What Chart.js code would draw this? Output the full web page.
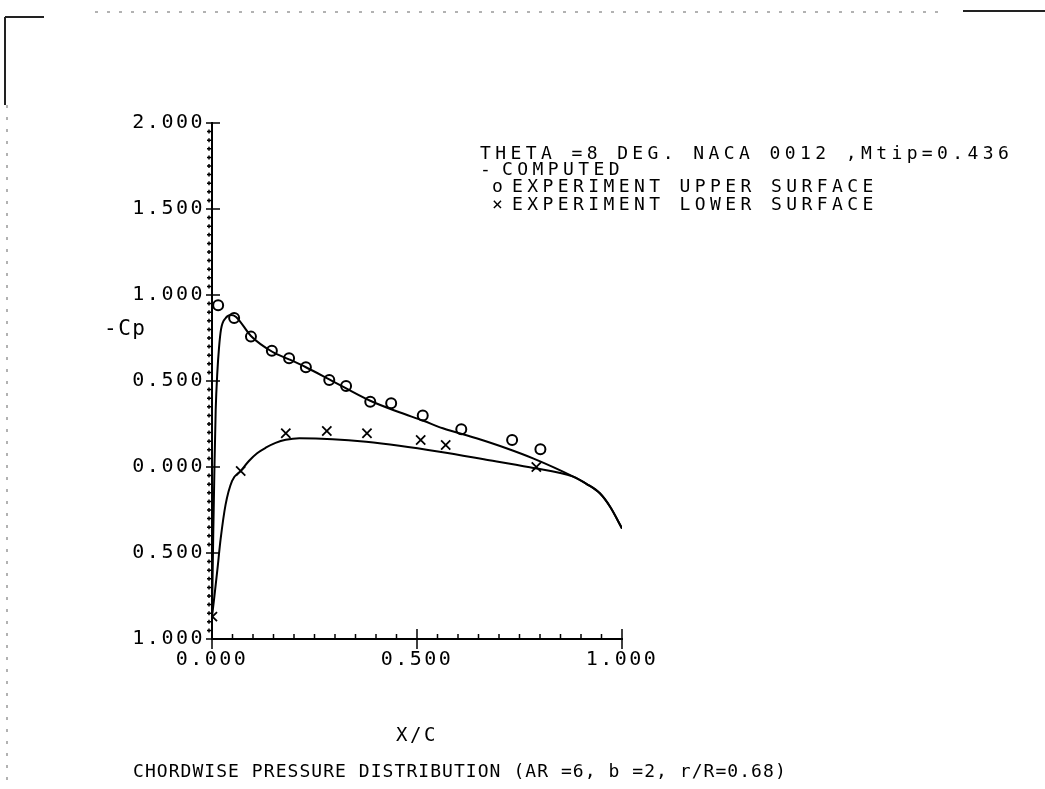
<!DOCTYPE html>
<html>
<head>
<meta charset="utf-8">
<title>Chordwise pressure distribution</title>
<script src="https://cdn.jsdelivr.net/npm/chart.js@4.4.1/dist/chart.umd.min.js"></script>
<style>
  html, body { margin: 0; padding: 0; background: #fff; }
  #wrap { width: 1045px; height: 789px; }
</style>
</head>
<body>
<div id="wrap"><canvas id="cpChart" width="1045" height="789"></canvas></div>
<script>
// axis ticks
var xTicks = [0, 0.5, 1];
var xTickLabels = ['0.000', '0.500', '1.000'];
var yTicks = [-1, -0.5, 0, 0.5, 1, 1.5, 2];
var yTickLabels = ['1.000', '0.500', '0.000', '0.500', '1.000', '1.500', '2.000'];

// experiment, upper surface (o)
var upperX  = [0.015, 0.054, 0.095, 0.146, 0.188, 0.229, 0.286, 0.327, 0.386, 0.437, 0.514, 0.608, 0.732, 0.801];
var upperCp = [0.94, 0.866, 0.758, 0.676, 0.632, 0.58, 0.506, 0.471, 0.38, 0.37, 0.30, 0.219, 0.157, 0.103];

// experiment, lower surface (x)
var lowerX  = [0.001, 0.07, 0.18, 0.28, 0.378, 0.509, 0.57, 0.791];
var lowerCp = [-0.87, -0.023, 0.196, 0.209, 0.196, 0.157, 0.128, 0.0];

// computed, upper surface
var compUpX  = [0, 0.003, 0.006, 0.009, 0.013, 0.017, 0.022, 0.033, 0.046, 0.058, 0.095, 0.147, 0.188, 0.229, 0.286, 0.386, 0.457, 0.514, 0.563, 0.645, 0.718, 0.783, 0.881, 0.914, 0.946, 0.971, 1.0];
var compUpCp = [-0.87, -0.4, 0.0, 0.33, 0.55, 0.69, 0.8, 0.865, 0.884, 0.874, 0.762, 0.67, 0.626, 0.58, 0.51, 0.385, 0.318, 0.27, 0.225, 0.167, 0.109, 0.05, -0.056, -0.099, -0.153, -0.231, -0.357];

// computed, lower surface
var compLoX  = [0, 0.005, 0.013, 0.021, 0.033, 0.049, 0.07, 0.09, 0.11, 0.131, 0.155, 0.18, 0.213, 0.294, 0.376, 0.457, 0.555, 0.663, 0.775, 0.881, 0.914, 0.946, 0.971, 1.0];
var compLoCp = [-0.87, -0.77, -0.6, -0.42, -0.22, -0.08, -0.023, 0.035, 0.08, 0.112, 0.14, 0.158, 0.167, 0.162, 0.147, 0.124, 0.089, 0.045, -0.002, -0.056, -0.099, -0.153, -0.231, -0.357];

var FONT = '"DejaVu Sans Mono", "Liberation Mono", monospace';

function pts(xs, ys) {
    return xs.map(function (x, i) { return { x: x, y: ys[i] }; });
}

function spacedText(ctx, text, x, y, size, spacing, align) {
    ctx.save();
    ctx.font = size + 'px ' + FONT;
    ctx.letterSpacing = spacing + 'px';
    ctx.textAlign = align || 'left';
    ctx.textBaseline = 'alphabetic';
    ctx.fillStyle = '#000';
    ctx.fillText(text, x, y);
    ctx.restore();
}

var paperPlugin = {
    id: 'paper',
    beforeDraw: function (chart) {
        var ctx = chart.ctx;
        ctx.save();
        // scanned page frame
        ctx.strokeStyle = '#222';
        ctx.lineWidth = 2;
        ctx.beginPath();
        ctx.moveTo(5, 17); ctx.lineTo(44, 17);
        ctx.moveTo(5, 17); ctx.lineTo(5, 105);
        ctx.moveTo(963, 11); ctx.lineTo(1045, 11);
        ctx.stroke();
        ctx.strokeStyle = '#999';
        ctx.lineWidth = 1.5;
        ctx.setLineDash([3, 9]);
        ctx.beginPath();
        ctx.moveTo(95, 12); ctx.lineTo(945, 12);
        ctx.moveTo(7, 105); ctx.lineTo(7, 789);
        ctx.stroke();
        ctx.restore();
        ctx.letterSpacing = '2.5px';
    },
    afterDraw: function (chart) {
        var ctx = chart.ctx, xs = chart.scales.x, ys = chart.scales.y;
        ctx.letterSpacing = '0px';
        var x0 = xs.getPixelForValue(0);
        var yb = ys.getPixelForValue(-1);
        ctx.save();
        ctx.strokeStyle = '#000';
        ctx.lineWidth = 1.5;
        ctx.beginPath();
        // y axis minor / major ticks
        for (var k = 0; k <= 60; k++) {
            var v = -1 + k * 0.05;
            var py = ys.getPixelForValue(v);
            if (k % 10 === 0) {
                ctx.moveTo(x0 - 6, py); ctx.lineTo(x0 + 8, py);
            } else {
                ctx.moveTo(x0 - 5, py); ctx.lineTo(x0, py);
                ctx.moveTo(x0 - 3, py - 2); ctx.lineTo(x0 - 3, py + 2);
            }
        }
        // x axis minor / major ticks
        for (var j = 0; j <= 20; j++) {
            var px = xs.getPixelForValue(j * 0.05);
            if (j % 10 === 0) {
                ctx.moveTo(px, yb - 10); ctx.lineTo(px, yb + 10);
            } else {
                ctx.moveTo(px, yb - 5); ctx.lineTo(px, yb);
            }
        }
        ctx.stroke();
        ctx.restore();

        // axis name and captions
        spacedText(ctx, '-Cp', 104, 335, 21, 1.5);
        spacedText(ctx, 'CHORDWISE PRESSURE DISTRIBUTION (AR =6, b =2, r/R=0.68)', 133, 777, 18, 1.05);

        // legend block
        spacedText(ctx, 'THETA =8 DEG. NACA 0012 ,Mtip=0.436', 480, 159, 18, 4.4);
        spacedText(ctx, '-', 480, 175, 18, 4.4);
        spacedText(ctx, 'COMPUTED', 502, 175, 18, 4.4);
        spacedText(ctx, 'o', 492, 192, 18, 4.4);
        spacedText(ctx, 'EXPERIMENT UPPER SURFACE', 512, 192, 18, 4.4);
        spacedText(ctx, '\u00d7', 492, 210, 18, 4.4);
        spacedText(ctx, 'EXPERIMENT LOWER SURFACE', 512, 210, 18, 4.4);
    }
};

var ctx = document.getElementById('cpChart').getContext('2d');

new Chart(ctx, {
    type: 'scatter',
    data: {
        datasets: [{
            label: 'COMPUTED upper',
            data: pts(compUpX, compUpCp),
            showLine: true,
            borderColor: '#000',
            borderWidth: 2,
            pointRadius: 0,
            cubicInterpolationMode: 'monotone'
        }, {
            label: 'COMPUTED lower',
            data: pts(compLoX, compLoCp),
            showLine: true,
            borderColor: '#000',
            borderWidth: 2,
            pointRadius: 0,
            cubicInterpolationMode: 'monotone'
        }, {
            label: 'EXPERIMENT UPPER SURFACE',
            data: pts(upperX, upperCp),
            pointStyle: 'circle',
            pointRadius: 5,
            borderColor: '#000',
            borderWidth: 2,
            backgroundColor: 'rgba(0,0,0,0)'
        }, {
            label: 'EXPERIMENT LOWER SURFACE',
            data: pts(lowerX, lowerCp),
            pointStyle: 'crossRot',
            pointRadius: 6.5,
            borderColor: '#000',
            borderWidth: 1.8
        }]
    },
    options: {
        responsive: false,
        animation: false,
        events: [],
        layout: { padding: { left: 0, right: 423, top: 123, bottom: 0 } },
        plugins: {
            legend: { display: false },
            tooltip: { enabled: false },
            title: { display: false }
        },
        scales: {
            x: {
                type: 'linear',
                min: 0,
                max: 1,
                afterBuildTicks: function (scale) {
                    scale.ticks = xTicks.map(function (v) { return { value: v }; });
                },
                afterFit: function (scale) { scale.height = 150; },
                grid: { display: false, drawTicks: false },
                border: { display: true, color: '#000', width: 2 },
                ticks: {
                    autoSkip: false,
                    maxRotation: 0,
                    padding: 9,
                    color: '#000',
                    font: { family: FONT, size: 20 },
                    callback: function (v, i) { return xTickLabels[i]; }
                },
                title: {
                    display: true,
                    text: 'X/C',
                    color: '#000',
                    font: { family: FONT, size: 19 },
                    padding: { top: 0, bottom: 42 }
                }
            },
            y: {
                type: 'linear',
                min: -1,
                max: 2,
                afterBuildTicks: function (scale) {
                    scale.ticks = yTicks.map(function (v) { return { value: v }; });
                },
                afterFit: function (scale) { scale.width = 212; },
                grid: { display: false, drawTicks: false },
                border: { display: true, color: '#000', width: 2 },
                ticks: {
                    autoSkip: false,
                    padding: 7,
                    color: '#000',
                    font: { family: FONT, size: 20 },
                    callback: function (v, i) { return yTickLabels[i]; }
                }
            }
        }
    },
    plugins: [paperPlugin]
});
</script>
</body>
</html>
